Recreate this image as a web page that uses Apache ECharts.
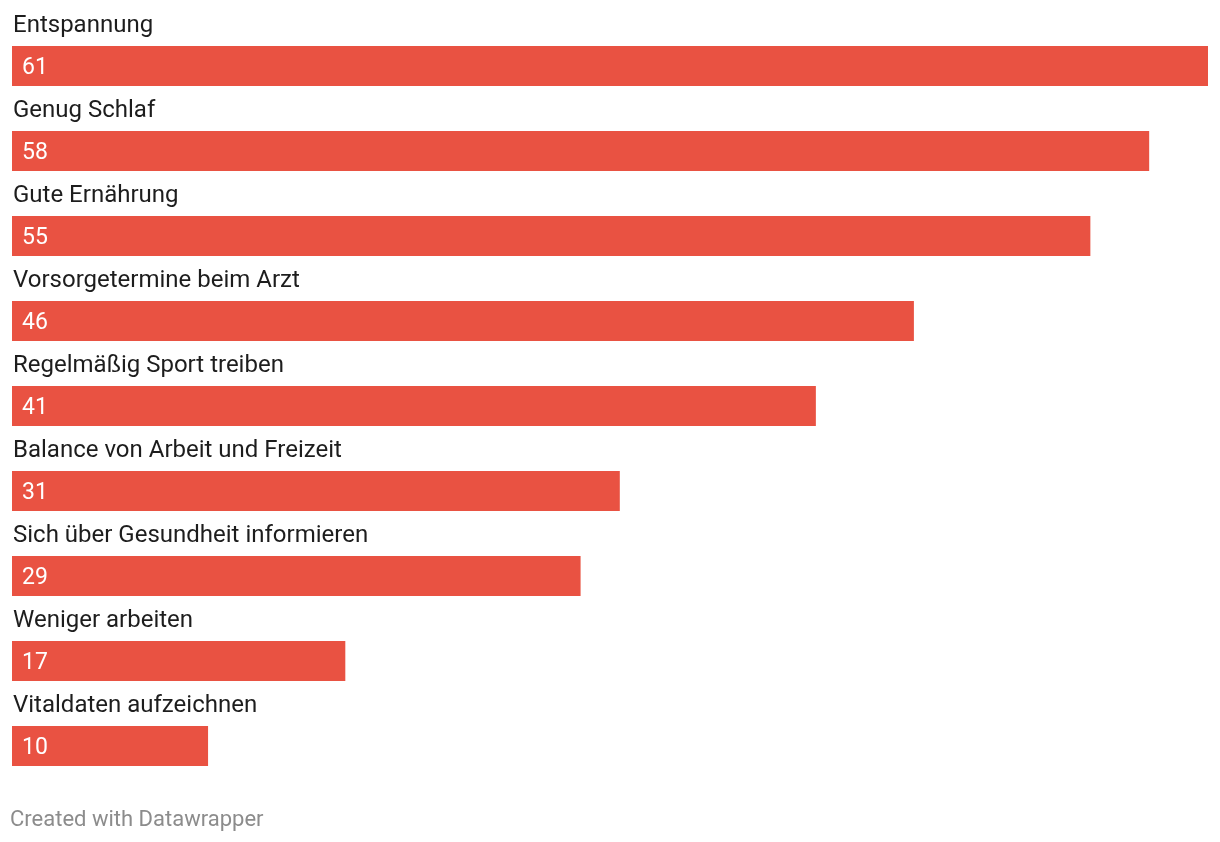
<!DOCTYPE html>
<html>
<head>
<meta charset="utf-8">
<script src="https://cdn.jsdelivr.net/npm/echarts@6/dist/echarts.min.js"></script>
<style>
html,body{margin:0;padding:0;background:#fff;}
#chart{width:1220px;height:842px;}
</style>
</head>
<body>
<div id="chart"></div>
<script>
const categories = ["Entspannung","Genug Schlaf","Gute Ernährung","Vorsorgetermine beim Arzt","Regelmäßig Sport treiben","Balance von Arbeit und Freizeit","Sich über Gesundheit informieren","Weniger arbeiten","Vitaldaten aufzeichnen"];
const values = [61,58,55,46,41,31,29,17,10];
const footerText = "Created with Datawrapper";

const chart = echarts.init(document.getElementById('chart'));
chart.setOption({
  animation:false,
  backgroundColor:'#fff',
  grid:{left:12,right:12,top:23.5,bottom:53.5,containLabel:false},
  xAxis:{type:'value',min:0,max:61,show:false},
  yAxis:{type:'category',data:categories,inverse:true,show:false},
  graphic:[{type:'text',left:10,top:809,style:{text:footerText,fill:'#8c8c8c',font:'22px Roboto'}}],
  series:[
    {type:'bar',data:values,barWidth:40,itemStyle:{color:'#e95242'},
     label:{show:true,position:'insideLeft',distance:10,offset:[0,2],color:'#fff',fontFamily:'Roboto',fontSize:23,formatter:'{c}'}},
    {type:'bar',data:values,barWidth:40,barGap:'-100%',itemStyle:{color:'rgba(0,0,0,0)'},silent:true,
     label:{show:true,position:[1,-20],align:'left',verticalAlign:'middle',color:'#1d1d1d',fontFamily:'Roboto',fontSize:24,formatter:'{b}'}}
  ]
});
</script>
</body>
</html>
